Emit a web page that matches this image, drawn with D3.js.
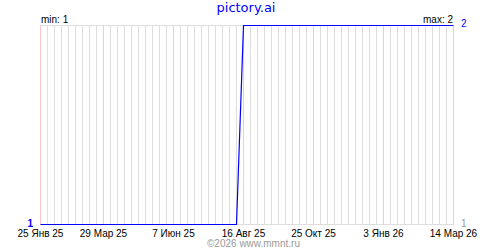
<!DOCTYPE html>
<html>
<head>
<meta charset="utf-8">
<script src="https://cdn.jsdelivr.net/npm/d3@7"></script>
<style>
  html, body { margin: 0; padding: 0; background: #fff; }
  svg { display: block; }
</style>
</head>
<body>
<svg id="chart" width="500" height="250"></svg>
<script>
// ---- data ----
const pointDates = ["2025-01-25", "2025-08-09", "2025-08-16", "2026-03-14"];
const pointValues = [1, 1, 2, 2];
const tickDates = ["2025-01-25", "2025-03-29", "2025-06-07", "2025-08-16", "2025-10-25", "2026-01-03", "2026-03-14"];
const tickLabels = ["25 Янв 25", "29 Мар 25", "7 Июн 25", "16 Авг 25", "25 Окт 25", "3 Янв 26", "14 Мар 26"];
const titleText = "pictory.ai";
const footerText = "©2026 www.mmnt.ru";
const minValue = 1, maxValue = 2;

const parse = d3.utcParse("%Y-%m-%d");
const svg = d3.select("#chart");
const x0 = parse(tickDates[0]), x1 = parse(tickDates[tickDates.length - 1]);
const x = d3.scaleUtc().domain([x0, x1]).range([40.5, 453.5]);
const y = d3.scaleLinear().domain([minValue, maxValue]).range([224.5, 25.5]);

const gridTop = y(maxValue), gridBot = y(minValue);

// weekly minor grid
const weeks = d3.utcDay.range(x0, d3.utcDay.offset(x1, 1), 7);
svg.append("g").selectAll("line").data(weeks).join("line")
  .attr("x1", d => x(d)).attr("x2", d => x(d))
  .attr("y1", gridTop).attr("y2", gridBot)
  .attr("stroke", "#dedede").attr("stroke-width", 1);

// horizontal grid
svg.append("g").selectAll("line").data([minValue, maxValue]).join("line")
  .attr("x1", x(x0)).attr("x2", x(x1))
  .attr("y1", d => y(d)).attr("y2", d => y(d))
  .attr("stroke", "#dedede");

// major grid
const majors = tickDates.map(parse);
svg.append("g").selectAll("line").data(majors).join("line")
  .attr("x1", d => x(d)).attr("x2", d => x(d))
  .attr("y1", gridTop).attr("y2", gridBot)
  .attr("stroke", "#ffc4c4");

// line
const data = pointDates.map((d, i) => ({ date: parse(d), value: pointValues[i] }));
svg.append("path").datum(data)
  .attr("fill", "none").attr("stroke", "#0000ff").attr("stroke-width", 1.2)
  .attr("d", d3.line().x(d => x(d.date)).y(d => y(d.value)));

// x tick labels
svg.append("g").selectAll("text").data(majors).join("text")
  .attr("x", d => x(d)).attr("y", 237)
  .attr("text-anchor", "middle")
  .attr("font-family", "Liberation Sans, Arial, sans-serif")
  .attr("font-size", 10).attr("fill", "#000")
  .text((d, i) => tickLabels[i]);

// title
svg.append("text").attr("x", 246).attr("y", 12).attr("text-anchor", "middle")
  .attr("font-family", "DejaVu Sans, Verdana, sans-serif").attr("font-size", 13)
  .attr("fill", "#0000ff").text(titleText);

// min / max
svg.append("text").attr("x", 41).attr("y", 23)
  .attr("font-family", "Liberation Sans, Arial, sans-serif").attr("font-size", 10)
  .attr("fill", "#000").text("min: " + minValue);
svg.append("text").attr("x", 453).attr("y", 23).attr("text-anchor", "end")
  .attr("font-family", "Liberation Sans, Arial, sans-serif").attr("font-size", 10)
  .attr("fill", "#000").text("max: " + maxValue);

// axis value labels
svg.append("text").attr("x", 461).attr("y", 27)
  .attr("font-family", "Liberation Sans, Arial, sans-serif").attr("font-size", 10)
  .attr("fill", "#0000ff").text(maxValue);
svg.append("text").attr("x", 33).attr("y", 227).attr("text-anchor", "end")
  .attr("font-family", "Liberation Sans, Arial, sans-serif").attr("font-size", 10).attr("font-weight", "bold")
  .attr("fill", "#0000ff").text(minValue);
svg.append("text").attr("x", 461).attr("y", 227)
  .attr("font-family", "Liberation Sans, Arial, sans-serif").attr("font-size", 10)
  .attr("fill", "#999").text(minValue);

// footer
svg.append("text").attr("x", 207).attr("y", 247)
  .attr("font-family", "Liberation Sans, Arial, sans-serif").attr("font-size", 10)
  .attr("fill", "#999").text(footerText);
</script>
</body>
</html>
